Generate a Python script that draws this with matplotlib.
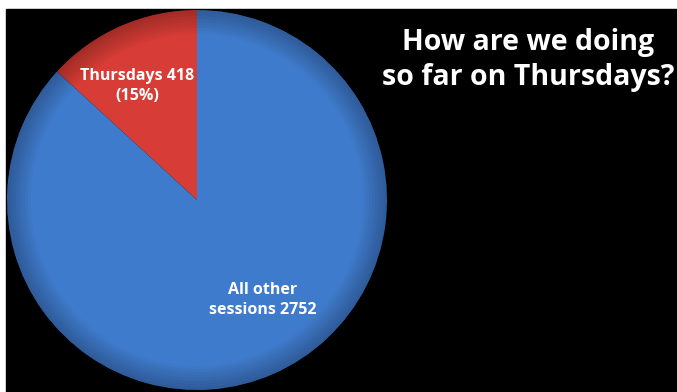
import matplotlib.pyplot as plt
from matplotlib.patches import Rectangle, Wedge

# data
labels = ["Thursdays 418\n(15%)", "All other\nsessions 2752"]
sessions = [418, 2752]
colors = ["#d83c36", "#3f7bcc"]
title = "How are we doing\nso far on Thursdays?"

W, H = 677, 392
fig = plt.figure(figsize=(W / 100, H / 100), dpi=100, facecolor="white")
ax = fig.add_axes([0, 0, 1, 1])

# black slide background with a thin white margin top/left
ax.add_patch(Rectangle((6, 0), W - 6, H - 9, color="black", zorder=0))

cx, cy, r = 197, 392 - 200, 190
wedges, _ = ax.pie(sessions, colors=colors, startangle=90, counterclock=True,
                   center=(cx, cy), radius=r, frame=True,
                   wedgeprops=dict(linewidth=0))

# darker rim to mimic the shaded bevel of the original
n = 8
for i in range(n):
    inner = r - 24 + i * 24 / n
    ax.add_patch(Wedge((cx, cy), r, 0, 360, width=r - inner,
                       facecolor="black", alpha=0.03, linewidth=0, zorder=2))

ax.set_xlim(0, W)
ax.set_ylim(0, H)
ax.set_aspect("equal")
ax.axis("off")

font = ["Open Sans", "DejaVu Sans"]
ax.text(137, 392 - 86, labels[0], ha="center", va="center", color="white",
        fontsize=11.5, fontweight="bold", family=font, linespacing=1.4, zorder=3)
ax.text(263, 392 - 300, labels[1], ha="center", va="center", color="white",
        fontsize=11.5, fontweight="bold", family=font, linespacing=1.4, zorder=3)
ax.text(528, 392 - 60, title, ha="center", va="center", color="white",
        fontsize=20.5, fontweight="bold", family=font, linespacing=1.25, zorder=3)

fig.savefig("out.png", dpi=100, facecolor="white")
